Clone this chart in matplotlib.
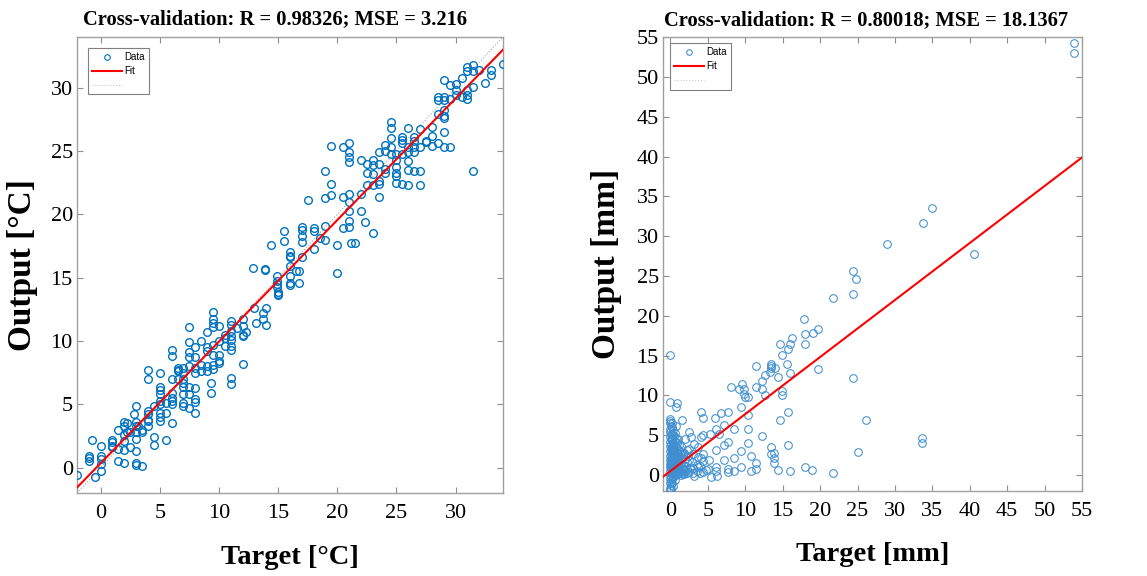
import matplotlib.pyplot as plt
from matplotlib.lines import Line2D

# ---- data ----
temp_title = 'Cross-validation: R = 0.98326; MSE = 3.216'
rain_title = 'Cross-validation: R = 0.80018; MSE = 18.1367'

temp_target = [
    34.0, 33.0, 33.0, 32.5, 32.0, 31.5, 31.5, 31.0, 31.0, 30.5, 31.5, 31.0, 31.0, 31.0, 30.5, 30.0, 30.0, 30.0, 29.5, 29.5,
    29.0, 29.0, 29.0, 29.0, 29.0, 29.0, 29.0, 28.5, 28.5, 28.5, 28.0, 28.0, 28.0, 28.5, 29.0, 29.5, 31.5, 27.0, 27.0, 27.5,
    27.5, 26.5, 26.5, 26.5, 26.5, 26.0, 26.0, 26.0, 26.0, 26.0, 26.0, 25.5, 25.5, 25.5, 25.5, 25.5, 25.0, 25.0, 25.0, 25.0,
    25.0, 25.0, 26.5, 27.0, 27.0, 24.5, 24.5, 24.5, 24.5, 24.5, 24.0, 24.0, 24.0, 24.0, 23.5, 23.5, 23.5, 23.5, 23.5, 23.0,
    23.0, 23.0, 23.0, 22.5, 22.5, 22.5, 22.0, 22.0, 22.0, 22.3, 23.0, 21.0, 21.0, 21.0, 21.0, 20.5, 19.5, 21.0, 21.0, 21.0,
    21.0, 21.0, 20.5, 20.5, 21.2, 21.5, 19.5, 19.5, 19.0, 19.0, 19.0, 19.0, 20.0, 20.0, 18.5, 18.0, 18.0, 18.0, 17.5, 17.0,
    17.0, 17.0, 17.0, 17.0, 16.5, 16.0, 16.0, 16.0, 16.0, 16.0, 16.0, 15.5, 15.5, 14.4, 13.9, 13.9, 12.9, 14.9, 14.9, 14.9,
    14.9, 16.8, 16.8, 15.0, 15.0, 15.0,
    -2.0, -0.5, 0.0, 0.0, 0.0, 0.0, 0.0, -1.0, -1.0, -1.0,
    -0.7, 1.0, 1.0, 1.0, 1.0, 1.5, 1.5, 2.0, 2.0, 2.0,
    2.0, 2.0, 2.0, 2.2, 2.2, 2.5, 2.8, 3.0, 3.0, 3.0,
    3.0, 3.0, 3.0, 3.0, 3.0, 3.5, 3.2, 3.5, 4.0, 4.0,
    4.0, 4.0, 4.0, 4.0, 4.5, 4.5, 4.5, 5.0, 5.0, 5.0,
    5.0, 5.0, 5.0, 5.0, 5.0, 5.0, 5.5, 5.5, 5.5, 6.0,
    6.0, 6.0, 6.0, 6.0, 6.0, 6.0, 6.0, 6.5, 6.5, 6.5,
    7.0, 7.0, 7.0, 7.0, 7.0, 7.0, 7.0, 7.0, 7.5, 7.5,
    7.5, 7.5, 7.5, 7.5, 7.5, 7.5, 8.0, 8.0, 8.0, 8.0,
    8.0, 8.0, 8.0, 8.0, 8.5, 8.5, 9.0, 9.0, 9.0, 9.0,
    9.3, 9.3, 9.5, 9.5, 9.5, 9.5, 9.5, 9.5, 9.5, 9.5,
    10.0, 10.0, 10.0, 10.0, 10.0, 10.5, 10.5, 11.0, 11.0, 11.0,
    11.0, 11.0, 11.0, 11.0, 11.0, 11.0, 12.0, 12.0, 12.0, 12.0,
    12.0, 12.3, 13.0, 13.1, 13.7, 13.7, 14.0, 14.0, 1.5, 2.5,
    3.5, 4.0, 6.5, 8.5, 9.0, 10.5, 11.5, 16.0,
]
temp_output = [
    31.9, 31.4, 31.0, 30.4, 31.4, 31.8, 31.3, 31.6, 31.3, 30.8, 30.05, 29.8, 29.4, 29.1, 29.3, 29.8, 29.4, 30.3, 30.2, 29.1,
    30.6, 29.3, 29.0, 28.2, 27.8, 27.6, 26.5, 29.3, 29.0, 27.9, 26.9, 26.2, 25.4, 25.6, 25.3, 25.3, 23.4, 26.7, 25.3, 25.8,
    25.7, 26.1, 25.8, 25.3, 24.9, 26.8, 25.3, 24.9, 24.2, 23.5, 22.3, 26.1, 25.9, 25.6, 24.8, 22.4, 24.8, 24.3, 23.7, 23.3,
    23.0, 22.5, 23.4, 23.4, 22.3, 27.3, 26.8, 26.0, 25.3, 24.8, 25.5, 25.0, 23.6, 23.3, 24.9, 24.0, 22.6, 22.4, 21.4, 24.3,
    23.9, 23.2, 22.3, 24.0, 23.3, 22.3, 24.3, 21.6, 20.3, 19.4, 18.5, 25.6, 24.9, 24.5, 24.1, 25.3, 25.4, 21.6, 21.0, 20.3,
    19.5, 19.0, 21.4, 18.9, 17.7, 17.7, 22.4, 21.5, 23.4, 21.3, 19.1, 18.0, 17.6, 15.4, 18.1, 18.9, 18.7, 17.3, 21.1, 19.0,
    18.8, 18.3, 17.8, 16.6, 15.5, 16.7, 16.6, 15.9, 15.1, 14.6, 14.4, 18.7, 17.9, 17.6, 15.7, 15.6, 15.8, 15.1, 14.7, 14.5,
    14.3, 15.5, 14.6, 13.9, 13.7, 13.6,
    -0.6, -0.7, -0.3, 0.3, 0.7, 0.9, 1.7, 0.8, 0.5, 0.9,
    2.2, 2.2, 2.0, 1.6, 1.7, 3.0, 0.5, 3.6, 3.3, 2.6,
    2.1, 1.4, 0.4, 3.5, 2.8, 1.6, 4.2, 4.9, 3.6, 3.3,
    2.8, 2.3, 1.3, 0.4, 0.2, 0.1, 3.3, 2.8, 7.7, 7.0,
    4.5, 4.2, 3.8, 3.3, 4.9, 2.4, 1.8, 7.5, 6.4, 6.1,
    5.8, 5.3, 5.0, 4.3, 4.0, 3.7, 4.3, 2.2, 5.1, 9.3,
    8.8, 7.0, 5.9, 5.5, 5.3, 5.0, 3.5, 7.9, 7.6, 7.0,
    7.9, 7.5, 7.0, 6.7, 6.4, 5.8, 5.1, 4.9, 11.1, 9.9,
    9.1, 8.7, 8.0, 6.4, 5.8, 4.7, 9.5, 8.7, 7.9, 7.5,
    6.3, 5.4, 5.2, 4.3, 10.0, 8.1, 10.7, 9.5, 9.2, 7.6,
    6.7, 5.9, 12.3, 11.7, 11.4, 11.1, 9.7, 8.9, 8.1, 7.8,
    11.2, 10.0, 8.9, 8.4, 8.3, 10.2, 9.6, 11.6, 11.3, 10.8,
    10.4, 10.1, 9.6, 9.3, 7.1, 6.6, 11.7, 11.2, 10.5, 10.4,
    8.2, 10.7, 12.6, 11.4, 12.2, 11.7, 12.6, 11.3, 1.5, 2.8,
    3.0, 3.7, 7.7, 7.6, 8.0, 10.5, 11.0, 17.0,
]

rain_target = [
    0.0, 0.0, 0.85, 0.75, 1.6, 0.75, 4.1, 4.4, 5.9, 6.8,
    7.7, 7.1, 6.1, 6.5, 5.3, 4.4, 4.1, 2.5, 2.8, 1.9,
    8.1, 9.1, 9.5, 9.8, 9.8, 10.0, 9.4, 10.3, 10.3, 11.5,
    11.5, 12.2, 12.3, 12.7, 12.7, 13.3, 13.5, 13.5, 13.5, 14.0,
    14.35, 14.9, 14.9, 14.9, 14.7, 15.55, 15.7, 16.0, 16.2, 16.0,
    15.7, 14.6, 17.9, 18.0, 18.0, 19.0, 19.7, 19.7, 21.7, 24.4,
    24.4, 26.2, 25.0, 33.6, 33.6, 21.7, 18.9, 18.0, 16.0, 15.7,
    14.35, 13.9, 13.8, 13.9, 13.5, 13.5, 11.5, 11.5, 10.8, 10.8,
    10.3, 10.3, 12.2, 9.4, 9.4, 8.5, 8.5, 8.5, 7.7, 7.7,
    7.7, 7.1, 7.1, 6.1, 6.1, 6.1, 5.4, 4.8, 6.2, 4.4,
    4.4, 4.4, 3.65, 3.65, 3.65, 3.1, 2.5, 2.5, 2.5, 1.7,
    1.7, 1.7, 54.0, 54.0, 35.0, 33.7, 29.0, 40.6, 24.4, 24.8,
    # dense cluster near zero
    0.0, 0.0, 0.1, 0.0, 0.05, 0.0, 0.1, 0.0, 0.05, 0.0,
    0.1, 0.0, 0.05, 0.0, 0.1, 0.0, 0.05, 0.0, 0.1, 0.0,
    0.05, 0.0, 0.1, 0.0, 0.05, 0.0, 0.1, 0.0, 0.0, 0.05,
    0.0, 0.0, 0.0, 0.2, 0.25, 0.2, 0.3, 0.2, 0.25, 0.3,
    0.2, 0.3, 0.25, 0.2, 0.3, 0.2, 0.15, 0.2, 0.15, 0.4,
    0.5, 0.45, 0.5, 0.4, 0.55, 0.45, 0.5, 0.4, 0.5, 0.45,
    0.7, 0.65, 0.75, 0.7, 0.65, 0.75, 0.7, 0.8, 0.7, 0.75,
    0.9, 0.95, 0.9, 1.0, 0.9, 1.0, 0.95, 0.9, 1.1, 1.15,
    1.1, 1.2, 1.1, 1.2, 1.15, 1.4, 1.35, 1.45, 1.4, 1.5,
    1.4, 1.45, 1.8, 1.85, 1.8, 1.9, 1.8, 2.2, 2.25, 2.2,
    2.3, 2.2, 3.0, 3.0, 2.9, 3.0, 3.1, 3.5, 3.6, 4.0,
    4.0, 4.1, 5.0, 5.1, 0.6, 0.35, 1.0, 0.55, 0.1, 0.3,
    0.15, 0.05, 0.25, 0.1, 0.35, 0.6, 0.85, 0.3, 0.45, 0.2,
    0.6, 1.3, 0.8, 1.6, 2.6, 0.05, 0.35, 0.15, 1.25, 2.0,
]
rain_output = [
    15.1, 9.2, 9.1, 8.5, 6.9, 6.1, 7.9, 7.2, 7.2, 7.8,
    7.9, 6.25, 5.8, 5.2, 5.1, 5.0, 4.8, 5.4, 4.8, 4.5,
    11.0, 10.8, 11.4, 10.8, 10.2, 9.8, 8.6, 9.8, 7.6, 13.75,
    11.1, 11.8, 10.8, 10.1, 12.6, 13.0, 13.75, 13.96, 13.5, 13.5,
    12.3, 10.0, 10.6, 15.1, 16.5, 14.0, 15.8, 16.5, 17.2, 12.8,
    7.9, 6.9, 19.6, 17.7, 16.5, 17.9, 18.3, 13.3, 22.2, 22.7,
    12.2, 6.9, 2.9, 4.6, 4.0, 0.3, 0.6, 1.0, 0.5, 3.75,
    0.6, 1.5, 2.2, 2.8, 3.5, 2.7, 1.5, 0.7, 0.5, 2.4,
    4.0, 5.75, 4.9, 3.0, 1.0, 5.8, 2.1, 0.5, 4.2, 0.7,
    0.4, 3.75, 1.9, 3.1, 1.0, 0.5, -0.2, 0.6, -0.1, 2.6,
    1.75, 0.4, 3.5, 2.3, 1.0, -0.1, 3.3, 1.9, 0.4, 2.7,
    0.8, 0.1, 54.2, 53.0, 33.5, 31.7, 29.0, 27.8, 25.6, 24.6,
    # dense cluster near zero
    -1.9, -1.6, -1.3, -1.0, -0.7, -0.45, -0.2, 0.05, 0.3, 0.5,
    0.75, 0.95, 1.15, 1.4, 1.6, 1.85, 2.1, 2.4, 2.7, 3.0,
    3.3, 3.6, 3.9, 4.2, 4.5, 4.8, 5.1, 5.45, 5.8, 6.2,
    6.5, 6.75, 7.0, -1.0, -0.5, 0.1, 0.4, 0.9, 1.3, 1.8,
    2.2, 2.6, 3.1, 3.5, 4.0, 4.6, 5.2, 6.0, 6.6, -0.3,
    0.2, 0.6, 1.0, 1.5, 2.0, 2.5, 3.0, 3.6, 4.3, 4.9,
    0.0, 0.4, 0.8, 1.25, 1.7, 2.3, 2.9, 3.5, 4.1, 4.7,
    0.1, 0.5, 1.0, 1.5, 2.0, 2.6, 3.3, 4.0, 0.2, 0.7,
    1.2, 1.8, 2.4, 3.0, 3.8, 0.0, 0.4, 0.9, 1.5, 2.2,
    2.9, 3.6, 0.1, 0.6, 1.2, 2.0, 2.8, 0.3, 0.8, 1.6,
    2.4, 3.2, 0.2, 0.9, 1.6, 2.6, 3.9, 0.5, 1.3, 0.3,
    1.1, 2.1, 0.8, 1.9, 5.3, 5.6, 4.5, -0.6, -1.7, -1.4,
    0.65, 1.75, 2.85, 3.45, 0.35, 1.1, 2.45, 5.0, 2.75, 4.4,
    0.15, 0.5, 1.35, 0.25, 0.9, 1.45, 3.1, 2.3, 2.65, 0.45,
]

# fitted lines (slope, intercept) as drawn in the figure
temp_fit = (0.96, 0.35)
rain_fit = (0.716, 0.5)

temp_lim = (-2, 34)
rain_xlim = (-1, 55)
rain_ylim = (-2, 55)
temp_ticks = [0, 5, 10, 15, 20, 25, 30]
rain_ticks = [0, 5, 10, 15, 20, 25, 30, 35, 40, 45, 50, 55]

plt.rcParams['font.family'] = ['Liberation Serif', 'DejaVu Serif']

fig = plt.figure(figsize=(11.47, 5.76), dpi=100)
ax1 = fig.add_axes([0.0671, 0.1441, 0.3714, 0.7917])
ax2 = fig.add_axes([0.578, 0.1476, 0.3653, 0.788])


def draw_panel(ax, target, output, fit, xlim, ylim, ticks, title, xlab, ylab,
               mcolor, mew, leg_anchor, show_identity, ylab_x, title_x):
    ax.plot(target, output, 'o', ls='none', mfc='none', mec=mcolor, ms=5.5, mew=mew, zorder=3)
    xs = list(xlim)
    ax.plot(xs, [fit[0] * v + fit[1] for v in xs], color='#ff0000', lw=1.5, zorder=4)
    if show_identity:
        ax.plot(xs, xs, color='#a8a8a8', lw=0.8, ls=':', zorder=2)
    ax.set_xlim(xlim)
    ax.set_ylim(ylim)
    ax.set_xticks(ticks)
    ax.set_yticks(ticks)
    ax.tick_params(direction='in', top=True, right=True, length=4, color='#909090',
                   labelsize=16)
    ax.tick_params(axis='x', pad=8)
    ax.tick_params(axis='y', pad=3)
    for s in ax.spines.values():
        s.set_color('#a0a0a0')
        s.set_linewidth(1.0)
    t = ax.set_title(title, fontsize=14.8, fontweight='bold', pad=9)
    t.set_x(title_x)
    ax.set_xlabel(xlab, fontsize=20.5, fontweight='bold')
    ax.set_ylabel(ylab, fontsize=24, fontweight='bold')
    ax.xaxis.set_label_coords(0.5, -0.113)
    ax.yaxis.set_label_coords(ylab_x, 0.5)

    handles = [
        Line2D([], [], marker='o', ls='none', mfc='none', mec=mcolor, ms=4, mew=0.8),
        Line2D([], [], color='#ff0000', lw=1.5),
        Line2D([], [], color='#c8c8c8', lw=0.8, ls=':'),
    ]
    leg = ax.legend(handles, ['Data', 'Fit', ' '], loc='upper left', bbox_to_anchor=leg_anchor,
                    prop={'family': 'Liberation Sans', 'size': 7}, frameon=True,
                    fancybox=False, edgecolor='#808080', framealpha=1,
                    handlelength=3.0, labelspacing=0.4, borderpad=0.45, handletextpad=0.3,
                    borderaxespad=0)
    leg.get_frame().set_linewidth(0.8)


draw_panel(ax1, temp_target, temp_output, temp_fit, temp_lim, temp_lim, temp_ticks,
           temp_title, 'Target [°C]', 'Output [°C]', '#0072BD', 1.0, (0.026, 0.976), True, -0.092, 0.465)
draw_panel(ax2, rain_target, rain_output, rain_fit, rain_xlim, rain_ylim, rain_ticks,
           rain_title, 'Target [mm]', 'Output [mm]', '#3f8fd0', 0.75, (0.017, 0.987), False, -0.098, 0.485)

fig.savefig('out.png', dpi=100)
